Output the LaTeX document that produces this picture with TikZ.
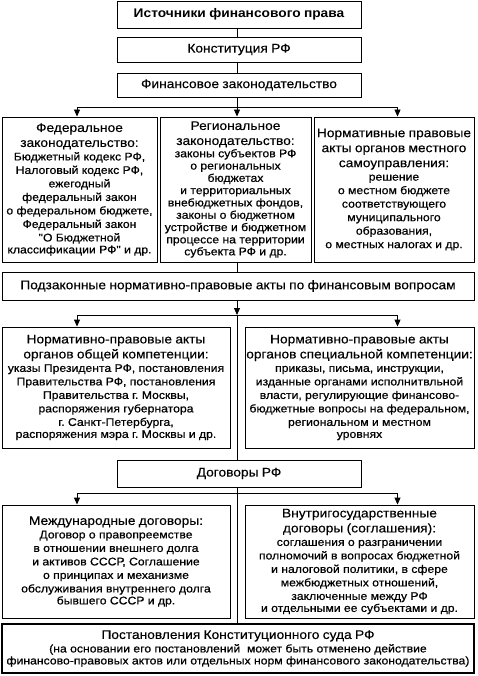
\documentclass[tikz,border=0pt]{standalone}
\usepackage{fontspec}
\setmainfont{Liberation Sans}[FakeStretch=1.1]
\newfontfamily\headfam{Liberation Sans}[FakeStretch=1.1,FakeBold=0.3]
\newfontfamily\bodyfam{Liberation Sans}[FakeStretch=1.1,FakeBold=0.6]
\usetikzlibrary{arrows.meta}
\newcommand\hdf{\headfam\fontsize{12.5}{15}\selectfont}
\newcommand\bdf{\bodyfam\fontsize{11.1}{13.5}\selectfont}
\newcommand\bdr{\bodyfam\fontsize{11.1}{12.3}\selectfont}
\frenchspacing
\tikzset{
  box/.style={draw, line width=0.9pt, inner xsep=2pt, inner ysep=0pt,
    execute at begin node={\frenchspacing\centering\leftskip=0pt plus 1fil minus 40pt\rightskip=0pt plus 1fil minus 40pt}},
  wire/.style={line width=0.9pt},
  arr/.style={wire, -{Triangle[length=7pt,width=6pt]}}
}
\begin{document}
\begin{tikzpicture}[x=1pt,y=-1pt]
\useasboundingbox (0,0) rectangle (477,676);
% boxes
\node[box, minimum width=244, minimum height=27, text width=240] (top) at (239,14.5) {\fontsize{12.5}{15}\selectfont\bfseries Источники финансового права};
\node[box, minimum width=244, minimum height=25, text width=240] (konst) at (239,49.5) {\hdf Конституция РФ};
\node[box, minimum width=244, minimum height=24, text width=240] (finz) at (239,85) {\hdf Финансовое законодательство};
\node[box, minimum width=155, minimum height=145, text width=151] (fed) at (79.5,189.5) {\hdf Федеральное\\законодательство:\\\bdf Бюджетный кодекс РФ,\\Налоговый кодекс РФ,\\ежегодный\\федеральный закон\\о федеральном бюджете,\\Федеральный закон\\"О Бюджетной\\классификации РФ" и др.};
\node[box, minimum width=151, minimum height=145, text width=147] (reg) at (235.5,189.5) {\hdf Региональное\\законодательство:\\\bdr законы субъектов РФ\\о региональных\\бюджетах\\и территориальных\\внебюджетных фондов,\\законы о бюджетном\\устройстве и бюджетном\\процессе на территории\\субъекта РФ и др.};
\node[box, minimum width=160, minimum height=145, text width=156] (mest) at (394,189.5) {\hdf Нормативные правовые\\акты органов местного\\самоуправления:\\\bdf решение\\о местном бюджете\\соответствующего\\муниципального\\образования,\\о местных налогах и др.\\[4pt]};
\node[box, minimum width=472, minimum height=28, text width=468] (podz) at (238,286) {\hdf Подзаконные нормативно-правовые акты по финансовым вопросам};
\node[box, minimum width=228, minimum height=121, text width=224] (gen) at (116,387.5) {\hdf Нормативно-правовые акты\\органов общей компетенции:\\\bdf указы Президента РФ, постановления\\Правительства РФ, постановления\\Правительства г. Москвы,\\распоряжения губернатора\\г. Санкт-Петербурга,\\распоряжения мэра г. Москвы и др.};
\node[box, minimum width=229, minimum height=121, text width=225] (spec) at (359.5,387.5) {\hdf Нормативно-правовые акты\\органов специальной компетенции:\\\bdf приказы, письма, инструкции,\\изданные органами исполнитвльной\\власти, регулирующие финансово-\\бюджетные вопросы на федеральном,\\региональном и местном\\уровнях};
\node[box, minimum width=244, minimum height=27, text width=240] (dog) at (239,473.5) {\hdf Договоры РФ};
\node[box, minimum width=228, minimum height=113, text width=224] (int) at (116,561.5) {\hdf Международные договоры:\\\bdf Договор о правопреемстве\\в отношении внешнего долга\\и активов СССР, Соглашение\\о принципах и механизме\\обслуживания внутреннего долга\\бывшего СССР и др.};
\node[box, minimum width=229, minimum height=113, text width=225] (vnut) at (359.5,561.5) {\hdf Внутригосударственные\\договоры (соглашения):\\\bdf соглашения о разграничении\\полномочий в вопросах бюджетной\\и налоговой политики, в сфере\\межбюджетных отношений,\\заключенные между РФ\\и отдельными ее субъектами и др.};
\node[box, line width=1.4pt, minimum width=472, minimum height=49, text width=468] (post) at (238,648.5) {\hdf Постановления Конституционного суда РФ\\\bdf (на основании его постановлений\ \ может быть отменено действие\\финансово-правовых актов или отдельных норм финансового законодательства)};
% junctions
\coordinate (j1) at (237,107);
\coordinate (j2) at (237,315);
\coordinate (j3) at (237,493);
\coordinate (aL) at (77,0);
\coordinate (aR) at (397.5,0);
% connectors
\draw[wire] (top.south -| j1) -- (konst.north -| j1);
\draw[wire] (konst.south -| j1) -- (finz.north -| j1);
\draw[wire] (finz.south -| j1) -- (j1);
\draw[arr] (j1) -- (reg.north -| j1);
\draw[arr] (j1) -| (fed.north -| aL);
\draw[arr] (j1) -| (mest.north -| aR);
\draw[wire] (reg.south -| j1) -- (podz.north -| j1);
\draw[arr] (podz.south -| j2) -- (j2);
\draw[arr] (j2) -| (gen.north -| aL);
\draw[arr] (j2) -| (spec.north -| aR);
\draw[wire] (j2) -- (dog.north -| j2);
\draw[wire] (dog.south -| j3) -- (j3);
\draw[arr] (j3) -| (int.north -| aL);
\draw[arr] (j3) -| (vnut.north -| aR);
\draw[wire] (j3) -- (post.north -| j3);
\end{tikzpicture}
\end{document}
